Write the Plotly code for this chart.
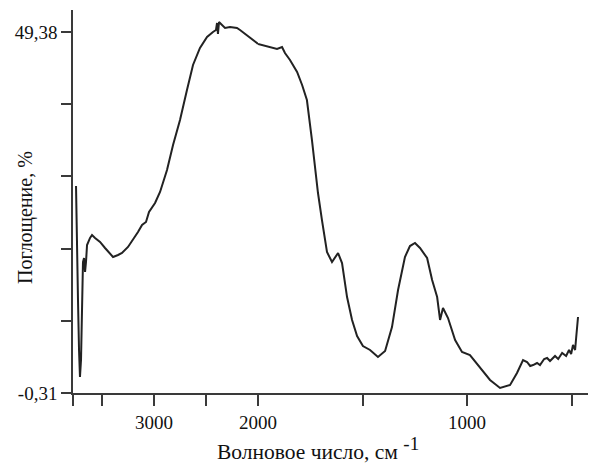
import plotly.graph_objects as go

# Wavenumber (cm-1) and absorbance (%)
wavenumber = [3750, 3740, 3731, 3721, 3712, 3702, 3692, 3683, 3673, 3663, 3654, 3644,
              3615, 3596, 3567, 3519, 3471, 3423, 3394, 3346, 3308, 3250, 3202, 3154,
              3115, 3077, 3048, 3019, 2990, 2942, 2875, 2817, 2750, 2683, 2625, 2558,
              2490, 2433, 2404, 2394, 2385, 2375, 2356, 2317, 2269, 2202, 2173, 2106,
              2077, 2010, 2000,
              1957, 1909, 1885, 1871, 1847, 1813, 1789, 1766, 1742, 1727, 1713, 1694,
              1670, 1646, 1617, 1598, 1574, 1550, 1526, 1498, 1464, 1426, 1392, 1359,
              1330, 1297, 1273, 1249, 1225, 1191, 1167, 1143, 1129, 1115, 1091, 1057,
              1024, 986, 938, 890, 842, 794, 761, 732, 713, 698, 684, 665, 651, 631,
              617, 603, 579, 564, 545, 526, 512, 502, 493, 483, 478, 474, 469]
absorbance = [28.18, 22.13, 12.49, 5.61, 1.89, 4.23, 12.49, 17.72, 18.27, 16.35, 17.72, 20.06,
              21.03, 21.44, 21.03, 20.48, 19.65, 18.82, 18.41, 18.69, 18.96, 19.79, 20.75, 21.85,
              22.82, 23.23, 24.61, 25.29, 25.84, 27.36, 30.39, 33.83, 37.27, 41.40, 44.84, 47.18,
              48.69, 49.38, 49.66, 50.62, 49.11, 50.76, 50.48, 49.93, 50.07, 49.93, 49.66, 48.97,
              48.56, 47.87, 47.73,
              47.45, 47.04, 47.32, 46.49, 45.53, 43.88, 42.09, 40.02, 34.52, 30.80, 27.22, 23.50,
              19.10, 17.72, 18.96, 17.58, 12.90, 9.74, 7.54, 6.16, 5.61, 4.65, 5.47, 8.77,
              13.87, 18.41, 19.92, 20.34, 19.65, 18.27, 15.24, 12.90, 9.74, 11.39, 10.01, 6.99,
              5.33, 4.92, 3.27, 1.48, 0.38, 0.79, 2.44, 4.23, 3.96, 3.41, 3.54, 3.82, 3.54, 4.37,
              4.51, 4.09, 4.78, 4.37, 5.20, 4.78, 5.61, 5.06, 6.30, 5.61, 7.26, 8.36, 10.15]

# Axis settings (scale changes at 2000 cm-1)
x_left_range = [3779, 2000]
x_right_range = [2000, 383]
x_left_ticks = [3779, 3500, 3000, 2500]
x_left_labels = ["", "", "3000", ""]
x_right_ticks = [2000, 1500, 1000, 500]
x_right_labels = ["2000", "", "1000", ""]
y_min, y_max = -0.31, 49.38
y_ticks = [-0.31, 9.628, 19.566, 29.504, 39.442, 49.38]
y_labels = ["-0,31", "", "", "", "", "49,38"]

hi = [(w, a) for w, a in zip(wavenumber, absorbance) if w >= 2000]
lo = [(w, a) for w, a in zip(wavenumber, absorbance) if w <= 2000]

FONT = "'Liberation Serif', 'Times New Roman', 'DejaVu Serif', 'Noto Serif', serif"
LINE = "#222222"
AX = "#3a3a3a"

fig = go.Figure()
fig.add_trace(go.Scatter(x=[p[0] for p in hi], y=[p[1] for p in hi], mode="lines",
                         line=dict(color=LINE, width=2), xaxis="x", yaxis="y",
                         showlegend=False))
fig.add_trace(go.Scatter(x=[p[0] for p in lo], y=[p[1] for p in lo], mode="lines",
                         line=dict(color=LINE, width=2), xaxis="x2", yaxis="y",
                         showlegend=False))

split = (258 - 73) / 523
common_x = dict(showline=True, linecolor=AX, linewidth=1.5, ticks="outside",
                ticklen=11, tickwidth=1.5, tickcolor=AX, showgrid=False, zeroline=False,
                tickfont=dict(family=FONT, size=19, color="#111"), anchor="y")
fig.update_layout(
    width=588, height=457,
    margin=dict(l=65, r=0, t=2, b=72),
    font=dict(family=FONT),
    paper_bgcolor="white", plot_bgcolor="white",
    xaxis=dict(domain=[0, split], range=x_left_range, tickmode="array",
               tickvals=x_left_ticks, ticktext=x_left_labels, **common_x),
    xaxis2=dict(domain=[split, 1], range=x_right_range, tickmode="array",
                tickvals=x_right_ticks, ticktext=x_right_labels, **common_x),
    yaxis=dict(range=[y_min, 52.41], tickmode="array", tickvals=y_ticks, ticktext=y_labels,
               showline=True, linecolor=AX, linewidth=1.5, ticks="outside", ticklen=10,
               tickwidth=1.5, tickcolor=AX, showgrid=False, zeroline=False, anchor="x",
               tickfont=dict(family=FONT, size=19, color="#111")),
    annotations=[
        dict(text="Волновое число, см <sup><span style='font-size:19px'>-1</span></sup>",
             xref="paper", yref="paper",
             x=(318 - 73) / 523, y=-(448 - 393) / 383, xanchor="center", yanchor="middle",
             showarrow=False, font=dict(family=FONT, size=21.5, color="#111")),
        dict(text="Поглощение, %", xref="paper", yref="paper",
             x=(25 - 73) / 523, y=(393 - 218) / 383, xanchor="center", yanchor="middle",
             textangle=-90, showarrow=False, font=dict(family=FONT, size=20, color="#111")),
    ],
)

fig.write_html("out.html")
